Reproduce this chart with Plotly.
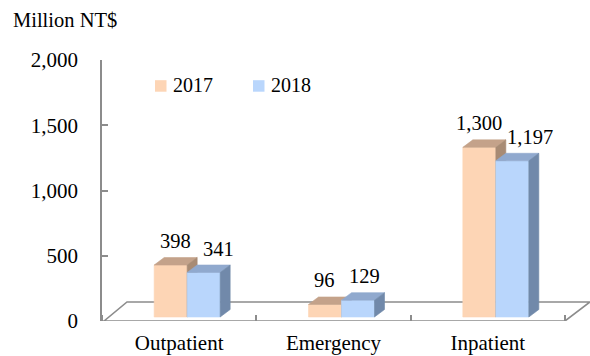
import plotly.graph_objects as go

# ---- data ----
categories = ["Outpatient", "Emergency", "Inpatient"]
years = ["2017", "2018"]
values_2017 = [398, 96, 1300]
values_2018 = [341, 129, 1197]
y_tick_values = [0, 500, 1000, 1500, 2000]
y_tick_labels = ["0", "500", "1,000", "1,500", "2,000"]
y_title = "Million NT$"

series = [(years[0], values_2017), (years[1], values_2018)]

# ---- style ----
FONT = "Liberation Serif, Times New Roman, serif"
FRONT = {"2017": "#FDD5B5", "2018": "#B9D6FC"}
TOP = {"2017": "#C4A28A", "2018": "#90A9CE"}
SIDE = {"2017": "#A88B74", "2018": "#7189AA"}
GRAY = "#8C8C8C"

W, H = 590, 356
M_L, M_R, M_T, M_B = 102, 0, 60, 35
PX_PER_CAT = 154.33
FLOOR_DX_PX, FLOOR_DY_PX = 25, 19
BAR_W_PX = 33
FRONT_DX_PX, FRONT_DY_PX = 8, 4
DEPTH_DX_PX, DEPTH_DY_PX = 10, 7.5
Y_MAX = 2000
plot_w = W - M_L - M_R
plot_h = H - M_T - M_B
px_per_val = plot_h / Y_MAX


def ux(px):
    return px / PX_PER_CAT


def uy(px):
    return px / px_per_val


def paper_x(px):
    return (px - M_L) / plot_w


def paper_y(py):
    return (H - M_B - py) / plot_h


x_range = [-0.5, len(categories) - 0.5 + ux(FLOOR_DX_PX)]

# per-label horizontal nudges (px) for the value labels
label_nudge = {"2017": [5, -1, 0], "2018": [15, 6, 18]}

fig = go.Figure()

# floor of the 3-D plot area (closed outline)
fx0, fx1 = -0.5, len(categories) - 0.5
fdx, fdy = ux(FLOOR_DX_PX), uy(FLOOR_DY_PX)
fig.add_trace(go.Scatter(
    x=[fx0 + ux(2), fx0 + fdx, fx1 + fdx, fx1, fx0],
    y=[0, fdy, fdy, 0, 0],
    mode="lines", line=dict(color=GRAY, width=1.6),
    cliponaxis=False, hoverinfo="skip", showlegend=False,
))

bw = ux(BAR_W_PX)
sx, sy = ux(FRONT_DX_PX), uy(FRONT_DY_PX)
dx, dy = ux(DEPTH_DX_PX), uy(DEPTH_DY_PX)

annotations = []
for s, (year, vals) in enumerate(series):
    for i, v in enumerate(vals):
        x0 = i + sx + (s - 1) * bw
        x1 = x0 + bw
        y0 = sy
        y1 = sy + v
        faces = [
            ([x0, x1, x1, x0, x0], [y0, y0, y1, y1, y0], FRONT[year]),
            ([x0, x1, x1 + dx, x0 + dx, x0], [y1, y1, y1 + dy, y1 + dy, y1], TOP[year]),
            ([x1, x1 + dx, x1 + dx, x1, x1], [y0, y0 + dy, y1 + dy, y1, y0], SIDE[year]),
        ]
        for fx, fy, col in faces:
            fig.add_trace(go.Scatter(
                x=fx, y=fy, mode="lines", fill="toself", fillcolor=col,
                line=dict(color=col, width=0.6), cliponaxis=False,
                hoverinfo="skip", showlegend=False,
            ))
        annotations.append(dict(
            x=(x0 + x1) / 2, y=y1 + dy, xref="x", yref="y",
            text=f"{v:,}", showarrow=False,
            xanchor="center", yanchor="middle",
            xshift=label_nudge[year][i], yshift=16.5,
            font=dict(family=FONT, size=20.5, color="black"),
        ))

# axis title
annotations.append(dict(
    x=paper_x(11), y=paper_y(20), xref="paper", yref="paper",
    text=y_title, showarrow=False, xanchor="left", yanchor="middle",
    font=dict(family=FONT, size=20.5, color="black"),
))

# legend
shapes = []
legend_pos = {"2017": 155, "2018": 253}
for year in years:
    lx = legend_pos[year]
    shapes.append(dict(
        type="rect", xref="paper", yref="paper",
        x0=paper_x(lx), x1=paper_x(lx + 11.5),
        y0=paper_y(91.7), y1=paper_y(80.2),
        fillcolor=FRONT[year], line=dict(width=0),
    ))
    annotations.append(dict(
        x=paper_x(lx + 16), y=paper_y(85), xref="paper", yref="paper",
        text=year, showarrow=False, xanchor="left", yanchor="middle",
        font=dict(family=FONT, size=20, color="black"),
    ))

fig.update_layout(
    width=W, height=H,
    margin=dict(l=M_L, r=M_R, t=M_T, b=M_B, pad=0),
    paper_bgcolor="white", plot_bgcolor="white",
    showlegend=False,
    font=dict(family=FONT, size=20, color="black"),
    xaxis=dict(
        range=x_range, showgrid=False, zeroline=False, showline=False,
        tickmode="array", tickvals=list(range(len(categories))),
        ticktext=categories, ticks="", ticklabelstandoff=7,
        tickfont=dict(family=FONT, size=21, color="black"),
        minor=dict(
            tickmode="array",
            tickvals=[k - 0.5 for k in range(len(categories) + 1)],
            ticks="inside", ticklen=6, tickwidth=1.5, tickcolor=GRAY,
            showgrid=False,
        ),
    ),
    yaxis=dict(
        range=[0, Y_MAX], showgrid=False, zeroline=False,
        showline=True, linecolor=GRAY, linewidth=1.6,
        tickmode="array", tickvals=y_tick_values, ticktext=y_tick_labels,
        ticks="inside", ticklen=6, tickwidth=1.5, tickcolor=GRAY,
        ticklabelstandoff=18,
        tickfont=dict(family=FONT, size=21, color="black"),
    ),
    annotations=annotations,
    shapes=shapes,
)

fig.write_html("out.html")
